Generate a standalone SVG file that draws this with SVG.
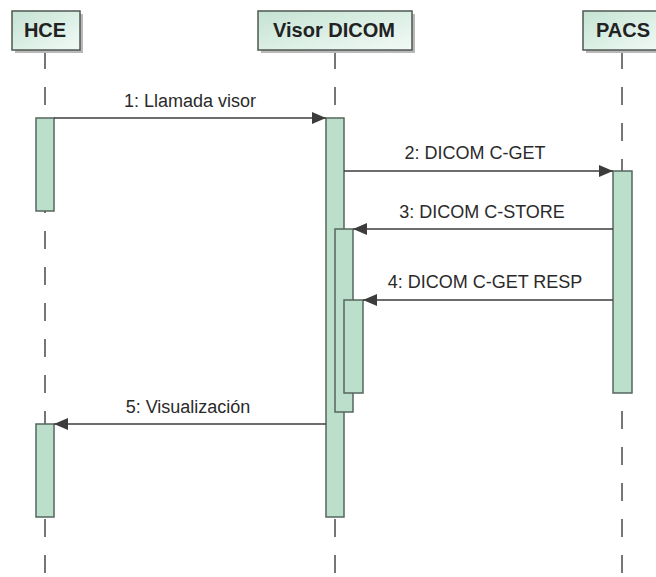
<svg xmlns="http://www.w3.org/2000/svg" width="656" height="577" viewBox="0 0 656 577">
<defs>
<linearGradient id="hg" x1="0" y1="0" x2="1" y2="1">
<stop offset="0" stop-color="#c4e3d3"/>
<stop offset="1" stop-color="#f2faf6"/>
</linearGradient>
<marker id="ah" markerWidth="14" markerHeight="12" refX="14" refY="6" orient="auto" markerUnits="userSpaceOnUse">
<path d="M0,0 L14,6 L0,12 Z" fill="#3c3c3c"/>
</marker>
<style>
.box{fill:url(#hg);stroke:#4f5752;stroke-width:1.5}
.shadow{fill:#b9b9b9}
.ht{font-family:"Liberation Sans",Arial,sans-serif;font-weight:bold;font-size:20px;fill:#222;text-anchor:middle}
.life{stroke:#4a4a4a;stroke-width:1.5;stroke-dasharray:18 18;fill:none}
.act{fill:#bcdfcb;stroke:#56665d;stroke-width:1.5}
.msg{stroke:#3c3c3c;stroke-width:1.5;fill:none;marker-end:url(#ah)}
.lt{font-family:"Liberation Sans",Arial,sans-serif;font-size:18px;fill:#2a2a2a;text-anchor:middle}
</style>
</defs>
<rect width="656" height="577" fill="#ffffff"/>

<g id="lifelines">
<line class="life" x1="45" y1="51" x2="45" y2="577"/>
<line class="life" x1="335" y1="51" x2="335" y2="577"/>
<line class="life" x1="622" y1="51" x2="622" y2="577"/>
</g>

<g id="HCE">
<rect class="shadow" x="15" y="14" width="68" height="39"/>
<rect class="box" x="12" y="11" width="68" height="39"/>
<text class="ht" x="45" y="37">HCE</text>
<rect class="act" x="36" y="118" width="18" height="93"/>
<rect class="act" x="36" y="424" width="18" height="93"/>
</g>

<g id="VisorDICOM">
<rect class="shadow" x="261" y="14" width="154" height="39"/>
<rect class="box" x="258" y="11" width="154" height="39"/>
<text class="ht" x="334" y="37">Visor DICOM</text>
<rect class="act" x="326" y="118" width="18" height="399"/>
<rect class="act" x="335" y="229" width="18" height="183"/>
<rect class="act" x="344" y="300" width="19" height="93"/>
</g>

<g id="PACS">
<rect class="shadow" x="586" y="14" width="80" height="39"/>
<rect class="box" x="583" y="11" width="80" height="39"/>
<text class="ht" x="623" y="37">PACS</text>
<rect class="act" x="613" y="171" width="19" height="222"/>
</g>

<g id="connectors">
<line class="msg" x1="54" y1="118" x2="326" y2="118"/>
<text class="lt" x="190" y="107">1: Llamada visor</text>
<line class="msg" x1="344" y1="171" x2="613" y2="171"/>
<text class="lt" x="475" y="159">2: DICOM C-GET</text>
<line class="msg" x1="613" y1="229" x2="353" y2="229"/>
<text class="lt" x="482" y="218">3: DICOM C-STORE</text>
<line class="msg" x1="613" y1="300" x2="363" y2="300"/>
<text class="lt" x="485" y="288">4: DICOM C-GET RESP</text>
<line class="msg" x1="326" y1="424" x2="54" y2="424"/>
<text class="lt" x="188" y="413">5: Visualización</text>
</g>
</svg>
